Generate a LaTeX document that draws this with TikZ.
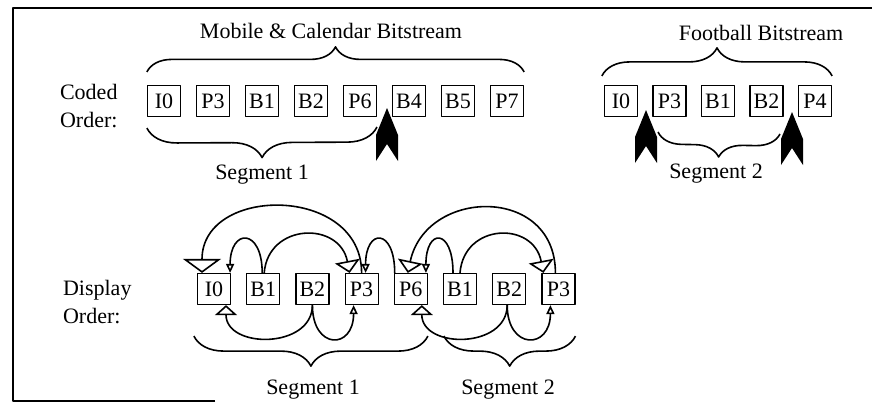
\documentclass[tikz,border=0pt]{standalone}
\usepackage{fontspec}
\setmainfont{Liberation Serif}
\usetikzlibrary{arrows.meta,calc,decorations.pathreplacing}

\begin{document}
\begin{tikzpicture}[x=0.5pt,y=-0.5pt,line join=round,
  every node/.style={font=\fontsize{11}{14}\selectfont},
  picbox/.style={draw,line width=0.6pt,minimum width=16.5pt,minimum height=15.5pt,inner sep=0pt},
  ref/.style={line width=0.8pt},
  tipxl/.style={-{Triangle[open,length=7pt,width=19pt]}},
  tipl/.style={-{Triangle[open,length=6pt,width=12.5pt]}},
  tipm/.style={-{Triangle[open,length=5pt,width=11pt]}},
  tips/.style={-{Triangle[open,length=4.5pt,width=4pt]}},
  seg/.style={line width=0.8pt,decorate,decoration={brace,amplitude=#1}}]
  \useasboundingbox (0,0) rectangle (872,413);
  % frame
  \draw[line width=1pt] (215,401) -- (13,401) -- (13,8) -- (872,8);

  % coded order
  \node[align=left,anchor=west] (lblcoded) at (53,106) {Coded\\Order:};
  \foreach \name [count=\i] in {I0,P3,B1,B2,P6,B4,B5,P7}
    \node[picbox] (c\i) at ({164+49*(\i-1)},101) {\name};
  \foreach \name [count=\i] in {I0,P3,B1,B2,P4}
    \node[picbox] (f\i) at ({621+48.5*(\i-1)},101) {\name};
  \node (lblmobile) at (331,31) {Mobile \& Calendar Bitstream};
  \node (lblfootball) at (761,33) {Football Bitstream};
  \draw[seg=12.5pt] ($(c1.north west)+(0,-13)$) -- ($(c8.north east)+(0,-13)$);
  \draw[seg=14pt] ($(f1.north west)+(-2,-9)$) -- ($(f5.north east)+(0,-9)$);

  % cut points
  \coordinate (cut1) at (387,108);
  \coordinate (cut2) at (646,110);
  \coordinate (cut3) at (792,112);
  \foreach \p in {cut1,cut2,cut3}
    \fill (\p) -- ++(11,27) -- ++(0,26) -- ++(-11,-17) -- ++(-11,17) -- ++(0,-26) -- cycle;
  \draw[seg=15pt] ($(cut1)+(-10,19)$) -- ($(c1.south west)+(0,11)$);
  \draw[seg=12pt] ($(cut3)+(-12,22)$) -- ($(cut2)+(12,22)$);
  \node (seg1a) at (262,175) {Segment 1};
  \node (seg2a) at (716,174) {Segment 2};

  % display order
  \node[align=left,anchor=west] (lbldisplay) at (56,302) {Display\\Order:};
  \foreach \name [count=\i] in {I0,B1,B2,P3,P6,B1,B2,P3}
    \node[picbox] (d\i) at ({214+49.2*(\i-1)},289) {\name};
  % references above
  \draw[ref,tipxl] (d4.north) .. controls +(0,-88) and +(0,-88) .. ($(d1.north)+(-12,0)$);
  \draw[ref,tips] ($(d2.north)+(-1,0)$) .. controls +(0,-45) and +(0,-45) .. ($(d1.north east)+(-1,0)$);
  \draw[ref,tipl] ($(d2.north)+(1,0)$) .. controls +(4,-50) and +(-10,-52) .. ($(d4.north)+(-12,0)$);
  \draw[ref,tips] ($(d5.north west)+(1,0)$) .. controls +(0,-45) and +(0,-45) .. ($(d4.north)+(4,0)$);
  \draw[ref,tipl] ($(d8.north)+(-3,0)$) .. controls +(0,-88) and +(18,-85) .. ($(d5.north)+(-3,0)$);
  \draw[ref,tips] ($(d6.north)+(-7,0)$) .. controls +(0,-45) and +(0,-45) .. ($(d5.north east)+(-2,0)$);
  \draw[ref,tipl] (d6.north) .. controls +(4,-50) and +(-10,-52) .. ($(d8.north)+(-15,0)$);
  % references below
  \draw[ref,tipm] (d3.south) .. controls +(0,44) and +(0,44) .. ($(d1.south)+(12,0)$);
  \draw[ref,tips] (d3.south) .. controls +(0,45) and +(0,45) .. ($(d4.south)+(-8,0)$);
  \draw[ref,tipm] ($(d7.south)+(-2,0)$) .. controls +(0,44) and +(0,44) .. ($(d5.south)+(11,0)$);
  \draw[ref,tips] ($(d7.south)+(-2,0)$) .. controls +(0,45) and +(0,45) .. ($(d8.south)+(-8,0)$);
  \draw[seg=15pt] ($(d5.south east)+(0,31)$) -- ($(d1.south west)+(-3,31)$);
  \draw[seg=15pt] ($(d8.south east)+(0,31)$) -- ($(d6.south west)+(1,31)$);
  \node (seg1b) at (313,390) {Segment 1};
  \node (seg2b) at (508,390) {Segment 2};
\end{tikzpicture}
\end{document}
